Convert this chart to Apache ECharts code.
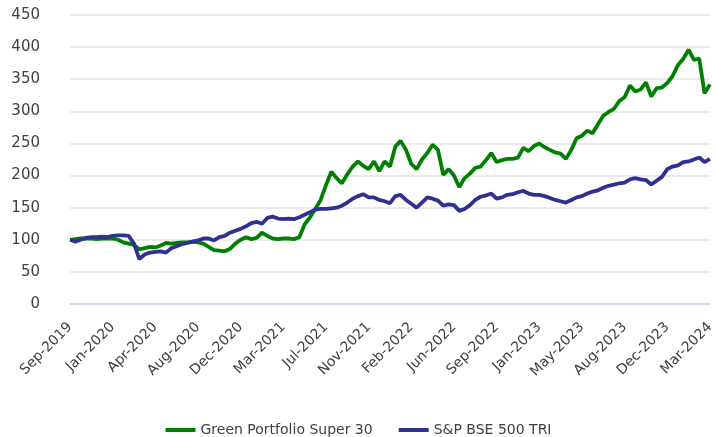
<!DOCTYPE html>
<html>
<head>
<meta charset="utf-8">
<script src="https://cdn.jsdelivr.net/npm/echarts@6/dist/echarts.min.js"></script>
<style>
  html, body { margin: 0; padding: 0; background: #fff; }
  #chart { width: 717px; height: 437px; }
</style>
</head>
<body>
<div id="chart"></div>
<script>
// tick labels shown under the axis, one every 8 points
const tickLabels = ['Sep-2019', 'Jan-2020', 'Apr-2020', 'Aug-2020', 'Dec-2020', 'Mar-2021', 'Jul-2021', 'Nov-2021',
  'Feb-2022', 'Jun-2022', 'Sep-2022', 'Jan-2023', 'May-2023', 'Aug-2023', 'Dec-2023', 'Mar-2024']
const pointsPerTick = 8

const greenPortfolio = [
  100, 101, 102, 102, 102, 101, 102, 102, 102, 100,
  96, 94, 92, 85, 87, 89, 88, 91, 95, 94,
  95, 96, 96, 97, 96, 94, 89, 84, 83, 82,
  86, 94, 100, 104, 101, 103, 111, 106, 102, 101,
  102, 102, 101, 104, 124, 135, 148, 162, 185, 206,
  196, 188, 202, 214, 222, 215, 210, 222, 207, 222,
  214, 245, 254, 240, 218, 210, 225, 235, 248, 240,
  201, 210, 200, 182, 196, 203, 212, 214, 224, 235,
  221, 224, 226, 226, 228, 243, 238, 246, 250, 244,
  240, 236, 234, 226, 240, 258, 262, 270, 266, 280,
  293, 299, 304, 316, 322, 340, 331, 334, 345, 323,
  336, 337, 344, 355, 372, 382, 396, 380, 382, 328,
  342
]

const bse500 = [
  100, 97, 100, 103, 104, 104, 105, 104, 106, 107,
  107, 106, 94, 70, 77, 80, 81, 82, 80, 87,
  90, 93, 95, 97, 99, 102, 102, 99, 104, 106,
  111, 114, 117, 121, 126, 128, 125, 134, 136, 133,
  132, 133, 132, 135, 139, 143, 147, 148, 148, 149,
  150, 153, 158, 164, 168, 171, 166, 166, 162, 160,
  157, 168, 170, 162, 156, 150, 158, 166, 164, 161,
  153, 155, 154, 145, 148, 154, 162, 167, 169, 172,
  164, 166, 170, 171, 174, 176, 172, 170, 170, 168,
  165, 162, 160, 158, 162, 166, 168, 172, 175, 177,
  181, 184, 186, 188, 189, 194, 196, 194, 193, 186,
  192, 198, 210, 214, 216, 221, 222, 225, 228, 221,
  226
]

const categories = greenPortfolio.map((v, i) => String(i))

var myChart = echarts.init(document.getElementById('chart'))

var option = {
  animation: false,
  textStyle: { fontFamily: 'DejaVu Sans' },
  grid: { left: 70, right: 4, top: 15, bottom: 133 },
  legend: {
    top: 418,
    left: 'center',
    icon: 'rect',
    itemWidth: 30,
    itemHeight: 4,
    itemGap: 26,
    textStyle: { fontSize: 14, color: '#404040', fontFamily: 'DejaVu Sans' },
    data: ['Green Portfolio Super 30', 'S&P BSE 500 TRI']
  },
  xAxis: {
    type: 'category',
    boundaryGap: false,
    data: categories,
    axisLine: { lineStyle: { color: '#cdd6ea', width: 1.5 } },
    axisTick: { show: false },
    axisLabel: {
      interval: pointsPerTick - 1,
      rotate: 45,
      margin: 21,
      fontSize: 14,
      color: '#404040',
      formatter: function (value, index) {
        return tickLabels[index / pointsPerTick] || ''
      }
    }
  },
  yAxis: {
    type: 'value',
    min: 0,
    max: 450,
    interval: 50,
    axisLine: { show: false },
    axisTick: { show: false },
    axisLabel: { fontSize: 15, color: '#404040', margin: 30 },
    splitLine: { lineStyle: { color: '#e5e5e5', width: 1.5 } }
  },
  series: [
    {
      name: 'Green Portfolio Super 30',
      type: 'line',
      data: greenPortfolio,
      showSymbol: false,
      lineStyle: { color: '#008000', width: 3.8 },
      itemStyle: { color: '#008000' }
    },
    {
      name: 'S&P BSE 500 TRI',
      type: 'line',
      data: bse500,
      showSymbol: false,
      lineStyle: { color: '#2e3192', width: 3.8 },
      itemStyle: { color: '#2e3192' }
    }
  ]
}

myChart.setOption(option)
</script>
</body>
</html>
